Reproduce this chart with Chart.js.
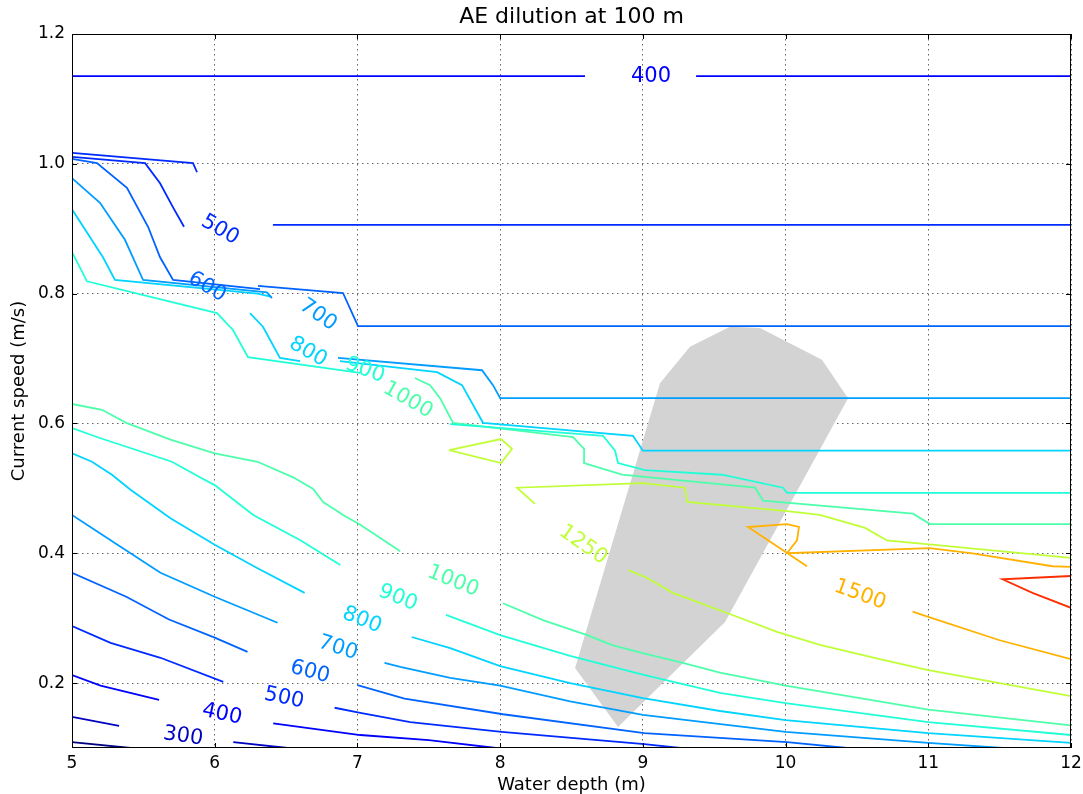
<!DOCTYPE html>
<html>
<head>
<meta charset="utf-8">
<script src="https://cdn.jsdelivr.net/npm/chart.js@4.4.0/dist/chart.umd.min.js"></script>
<style>
  html, body { margin: 0; padding: 0; background: #fff; }
</style>
</head>
<body>
<canvas id="chart" width="1083" height="794"></canvas>
<script>
// contour levels and their jet colours
const levels = [200, 300, 400, 500, 600, 700, 800, 900, 1000, 1250, 1500, 1750];
const levelColors = {
    200: '#000080', 300: '#0000bf', 400: '#0000ff', 500: '#002aff',
    600: '#0063ff', 700: '#009cff', 800: '#00d4ff', 900: '#20ffd7',
    1000: '#4dffaa', 1250: '#c0ff37', 1500: '#ffb200', 1750: '#ff2e00'
};

// contour segments: [water depth, current speed]
const c200 = [
    [[5.0, 0.109], [5.41, 0.1]]
];
const c300 = [
    [[5.0, 0.148], [5.33, 0.134]],
    [[6.13, 0.109], [6.51, 0.1]]
];
const c400 = [
    [[5.0, 1.135], [8.595, 1.135]],
    [[9.373, 1.135], [12, 1.135]],
    [[5.0, 0.2125], [5.2, 0.196], [5.61, 0.174]],
    [[6.41, 0.138], [7.02, 0.120], [7.5, 0.112], [7.97, 0.1]]
];
const c500 = [
    [[5.0, 1.017], [5.848, 1.001], [5.876, 0.987]],
    [[5.0, 1.0106], [5.512, 1.001], [5.617, 0.970], [5.708, 0.933], [5.785, 0.903]],
    [[6.408, 0.906], [12, 0.906]],
    [[5.0, 0.288], [5.27, 0.262], [5.62, 0.239], [6.06, 0.202]],
    [[6.84, 0.162], [7.02, 0.154], [7.37, 0.140], [8.01, 0.125], [9.01, 0.106], [9.26, 0.1]]
];
const c600 = [
    [[5.0, 1.0075], [5.175, 1.001], [5.385, 0.963], [5.533, 0.903], [5.617, 0.856], [5.708, 0.821], [6.317, 0.807]],
    [[6.303, 0.812], [6.899, 0.801], [7.004, 0.750], [12, 0.750]],
    [[5.0, 0.370], [5.38, 0.333], [5.68, 0.298], [6.0, 0.270], [6.23, 0.248]],
    [[7.0, 0.197], [7.33, 0.176], [8.02, 0.152], [9.01, 0.123], [10.01, 0.109], [10.43, 0.1]]
];
const c700 = [
    [[5.0, 0.978], [5.196, 0.940], [5.371, 0.883], [5.498, 0.821], [6.366, 0.802], [6.401, 0.793]],
    [[6.864, 0.701], [7.873, 0.682], [7.950, 0.659], [8.0, 0.639], [12, 0.639]],
    [[5.0, 0.459], [5.30, 0.416], [5.62, 0.370], [6.0, 0.333], [6.44, 0.293]],
    [[7.19, 0.231], [7.30, 0.225], [7.65, 0.208], [8.0, 0.196], [8.49, 0.172], [9.0, 0.151], [10.0, 0.125], [11.0, 0.108], [11.52, 0.1]]
];
const c800 = [
    [[5.0, 0.930], [5.217, 0.856], [5.301, 0.821], [6.30, 0.800], [6.40, 0.795]],
    [[6.247, 0.770], [6.338, 0.749], [6.457, 0.701], [6.598, 0.696]],
    [[6.878, 0.696], [7.558, 0.679], [7.733, 0.659], [7.880, 0.601], [8.931, 0.581], [9.0, 0.558], [12, 0.558]],
    [[5.0, 0.554], [5.14, 0.541], [5.28, 0.521], [5.41, 0.498], [5.69, 0.454], [6.0, 0.413], [6.30, 0.377], [6.63, 0.339]],
    [[7.38, 0.271], [7.65, 0.254], [8.0, 0.226], [8.49, 0.200], [9.0, 0.177], [9.54, 0.157], [10.0, 0.143], [11.0, 0.123], [12, 0.108]]
];
const c900 = [
    [[5.0, 0.864], [5.105, 0.819], [6.016, 0.770], [6.128, 0.744], [6.233, 0.702], [7.018, 0.678]],
    [[7.649, 0.599], [8.721, 0.581], [8.805, 0.558], [8.826, 0.539], [9.015, 0.528], [9.555, 0.521], [9.982, 0.501], [10.01, 0.493], [12, 0.493]],
    [[5.0, 0.593], [5.19, 0.578], [5.7, 0.541], [5.89, 0.518], [6.0, 0.505], [6.27, 0.459], [6.60, 0.420], [6.88, 0.382]],
    [[7.62, 0.305], [8.0, 0.274], [8.49, 0.242], [9.0, 0.213], [9.54, 0.185], [10.0, 0.169], [11.0, 0.140], [12, 0.120]]
];
const c1000 = [
    [[7.403, 0.670], [7.509, 0.659], [7.579, 0.639], [7.670, 0.601], [8.511, 0.579], [8.588, 0.561], [8.588, 0.539], [8.854, 0.521], [9.786, 0.501], [9.842, 0.481], [10.893, 0.461], [11.012, 0.445], [12, 0.445]],
    [[5.0, 0.630], [5.21, 0.621], [5.38, 0.601], [5.69, 0.575], [6.0, 0.554], [6.30, 0.541], [6.55, 0.517], [6.69, 0.499], [6.76, 0.479], [6.90, 0.459], [7.02, 0.444], [7.30, 0.403]],
    [[8.02, 0.323], [8.30, 0.297], [8.61, 0.274], [8.79, 0.258], [9.0, 0.246], [9.28, 0.231], [9.54, 0.216], [10.0, 0.196], [11.0, 0.159], [12, 0.135]]
];
const c1250 = [
    [[7.642, 0.559], [8.006, 0.576], [8.083, 0.561], [8.006, 0.539], [7.642, 0.559]],
    [[8.244, 0.476], [8.118, 0.501], [9.0, 0.508], [9.295, 0.501], [9.31, 0.479], [10.01, 0.465], [10.24, 0.459], [10.557, 0.439], [10.71, 0.420], [12, 0.393]],
    [[8.90, 0.374], [9.03, 0.362], [9.21, 0.339], [9.59, 0.308], [9.94, 0.279], [10.24, 0.259], [10.66, 0.237], [11.0, 0.220], [11.50, 0.200], [12, 0.180]]
];
const c1500 = [
    [[10.15, 0.380], [9.737, 0.4405], [10.01, 0.445], [10.094, 0.4405], [10.08, 0.420], [10.01, 0.400], [11.01, 0.408], [11.31, 0.400], [11.87, 0.380], [12, 0.379]],
    [[10.89, 0.310], [11.0, 0.302], [11.50, 0.266], [12, 0.237]]
];
const c1750 = [
    [[12, 0.365], [11.52, 0.360], [11.73, 0.339], [12, 0.316]]
];
const contours = {
    200: c200, 300: c300, 400: c400, 500: c500, 600: c600, 700: c700,
    800: c800, 900: c900, 1000: c1000, 1250: c1250, 1500: c1500, 1750: c1750
};

// inline contour labels: level, depth, speed, slope (deg)
const labelLevels = [400, 500, 600, 700, 800, 900, 1000, 1250, 1500, 1000, 900, 800, 700, 600, 500, 400, 300];
const labelDepth  = [9.057, 6.037, 5.946, 6.724, 6.654, 7.053, 7.354, 8.581, 10.522, 7.670, 7.284, 7.032, 6.864, 6.668, 6.486, 6.051, 5.778];
const labelSpeed  = [1.135, 0.898, 0.810, 0.767, 0.710, 0.682, 0.636, 0.413, 0.336, 0.357, 0.331, 0.297, 0.254, 0.217, 0.177, 0.152, 0.118];
const labelAngle  = [0, 30, 30, 35, 30, 20, 30, 35, 20, 22, 22, 22, 18, 15, 12, 12, 8];

// shaded operating region
const shadedRegion = [
    [8.525, 0.2233], [8.826, 0.1324], [9.576, 0.294], [10.438, 0.639], [10.255, 0.698],
    [9.821, 0.747], [9.611, 0.749], [9.330, 0.718], [9.120, 0.662]
];

const xTicks = [5, 6, 7, 8, 9, 10, 11, 12];
const yTicks = [0.2, 0.4, 0.6, 0.8, 1.0, 1.2];

Chart.defaults.font.family = 'DejaVu Sans';
Chart.defaults.color = '#000';

const datasets = [];
levels.forEach(function (lv) {
    contours[lv].forEach(function (seg) {
        datasets.push({
            data: seg.map(p => ({ x: p[0], y: p[1] })),
            showLine: true,
            borderColor: levelColors[lv],
            borderWidth: 1.8,
            pointRadius: 0,
            pointHoverRadius: 0,
            fill: false,
            tension: 0
        });
    });
});

// grey region drawn under the contours
const shadePlugin = {
    id: 'shade',
    beforeDatasetsDraw(chart) {
        const { ctx, scales: { x, y }, chartArea } = chart;
        ctx.save();
        ctx.beginPath();
        ctx.rect(chartArea.left, chartArea.top, chartArea.width, chartArea.height);
        ctx.clip();
        ctx.beginPath();
        shadedRegion.forEach((p, i) => {
            const px = x.getPixelForValue(p[0]);
            const py = y.getPixelForValue(p[1]);
            if (i === 0) ctx.moveTo(px, py); else ctx.lineTo(px, py);
        });
        ctx.closePath();
        ctx.fillStyle = '#d3d3d3';
        ctx.fill();
        ctx.restore();
    }
};

// contour labels, frame, ticks and titles
const decorPlugin = {
    id: 'decor',
    afterDatasetsDraw(chart) {
        const { ctx, scales: { x, y } } = chart;
        ctx.save();
        ctx.font = '21px "DejaVu Sans"';
        ctx.textAlign = 'center';
        ctx.textBaseline = 'middle';
        labelLevels.forEach((lv, i) => {
            ctx.save();
            ctx.translate(x.getPixelForValue(labelDepth[i]), y.getPixelForValue(labelSpeed[i]));
            ctx.rotate(labelAngle[i] * Math.PI / 180);
            ctx.fillStyle = levelColors[lv];
            ctx.fillText(String(lv), 0, 0);
            ctx.restore();
        });
        ctx.restore();
    },
    afterDraw(chart) {
        const { ctx, chartArea: a, scales: { x, y } } = chart;
        ctx.save();
        ctx.strokeStyle = '#000';
        ctx.lineWidth = 1;
        ctx.strokeRect(a.left + 0.5, a.top + 0.5, a.width - 1, a.height - 1);
        ctx.beginPath();
        xTicks.forEach(v => {
            const px = Math.round(x.getPixelForValue(v)) + 0.5;
            ctx.moveTo(px, a.bottom); ctx.lineTo(px, a.bottom - 5);
            ctx.moveTo(px, a.top); ctx.lineTo(px, a.top + 5);
        });
        yTicks.forEach(v => {
            const py = Math.round(y.getPixelForValue(v)) + 0.5;
            ctx.moveTo(a.left, py); ctx.lineTo(a.left + 5, py);
            ctx.moveTo(a.right, py); ctx.lineTo(a.right - 5, py);
        });
        ctx.stroke();

        ctx.fillStyle = '#000';
        ctx.textAlign = 'center';
        ctx.textBaseline = 'middle';
        ctx.font = '22px "DejaVu Sans"';
        ctx.fillText('AE dilution at 100 m', (a.left + a.right) / 2, 17);
        ctx.font = '18px "DejaVu Sans"';
        ctx.fillText('Water depth (m)', (a.left + a.right) / 2, 785);
        ctx.save();
        ctx.translate(19, (a.top + a.bottom) / 2);
        ctx.rotate(-Math.PI / 2);
        ctx.fillText('Current speed (m/s)', 0, 0);
        ctx.restore();
        ctx.restore();
    }
};

const chart = new Chart(document.getElementById('chart').getContext('2d'), {
    type: 'scatter',
    data: { datasets: datasets },
    options: {
        responsive: false,
        animation: false,
        devicePixelRatio: 1,
        layout: { padding: { top: 34, right: 12, left: 0, bottom: 0 } },
        plugins: {
            legend: { display: false },
            tooltip: { enabled: false },
            title: { display: false }
        },
        scales: {
            x: {
                type: 'linear',
                min: 5,
                max: 12,
                afterBuildTicks: scale => { scale.ticks = xTicks.map(v => ({ value: v })); },
                afterFit: scale => {
                    scale.height = 46;
                    scale.paddingLeft = 0;
                    scale.paddingRight = 0;
                },
                ticks: { font: { size: 17 }, padding: 5, maxRotation: 0 },
                grid: { color: 'rgba(0,0,0,0.6)', lineWidth: 1, drawTicks: false },
                border: { display: false, dash: [1.5, 3.5] }
            },
            y: {
                type: 'linear',
                min: 0.1,
                max: 1.2,
                afterBuildTicks: scale => { scale.ticks = yTicks.map(v => ({ value: v })); },
                afterFit: scale => {
                    scale.width = 72;
                    scale.paddingTop = 0;
                    scale.paddingBottom = 0;
                },
                ticks: { font: { size: 17 }, padding: 7, callback: v => v.toFixed(1) },
                grid: { color: 'rgba(0,0,0,0.6)', lineWidth: 1, drawTicks: false },
                border: { display: false, dash: [1.5, 3.5] }
            }
        }
    },
    plugins: [shadePlugin, decorPlugin]
});
</script>
</body>
</html>
